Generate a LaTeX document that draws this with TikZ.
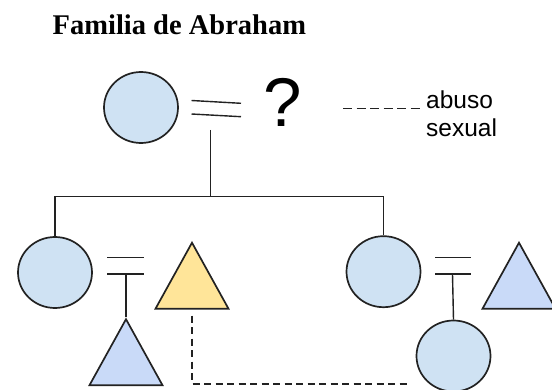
\documentclass[tikz,border=0pt]{standalone}
\usepackage{fontspec}
\setmainfont{Liberation Serif}
\newfontfamily\labelfont{Liberation Sans}
\usetikzlibrary{shapes.geometric}
\definecolor{femfill}{HTML}{CFE2F3}
\definecolor{mascfill}{HTML}{C9DAF8}
\definecolor{mascyellow}{HTML}{FFE599}
\definecolor{edge}{HTML}{222222}
\tikzset{fem/.style={ellipse,draw=edge,line width=1.7pt,fill=femfill,minimum width=74pt,minimum height=71pt,inner sep=0pt}}
\tikzset{masc/.style={isosceles triangle,isosceles triangle stretches,shape border rotate=90,draw=edge,line width=1.7pt,fill=mascfill,minimum width=73pt,minimum height=66pt,inner sep=0pt,anchor=apex}}
\tikzset{link/.style={draw=edge,line width=1.4pt}}
\tikzset{abuse/.style={draw=edge,line width=1.4pt,dash pattern=on 7pt off 4.5pt}}

\begin{document}
\begin{tikzpicture}[x=1pt,y=-1pt]
    \useasboundingbox (0,0) rectangle (552,390);
    \node[anchor=base west,inner sep=0pt,font=\bfseries\fontsize{28.5}{30}\selectfont] (title) at (52.5,35) {Familia de Abraham};
    % first generation
    \node[fem] (abraham) at (141,107.5) {};
    \node[anchor=base,inner sep=0pt,font=\labelfont\fontsize{69}{70}\selectfont] (partner) at (283,127) {?};
    \draw[link] (191.5,100.5) -- (241,103.3);
    \draw[link] (191.5,114) -- (241,116.7);
    \coordinate (m1) at (210.7,130);
    \coordinate (sib) at (210.7,196.7);
    \draw[link] (m1) -- (sib);
    % legend
    \coordinate (legend) at (343,108.5);
    \node[anchor=base west,inner xsep=3pt,inner ysep=0pt,font=\labelfont\fontsize{24.5}{26}\selectfont] (abuso) at (423,108.5) {abuso};
    \node[anchor=base west,inner xsep=3pt,inner ysep=0pt,font=\labelfont\fontsize{24.5}{26}\selectfont] (sexual) at (423,137) {sexual};
    \draw[abuse,dash pattern=on 9pt off 4.5pt] (legend) -- (abuso.base west);
    % second generation
    \node[fem] (hijaL) at (55,272.5) {};
    \node[fem] (hijaR) at (383.5,271.7) {};
    \draw[link] (hijaL.north) -- (hijaL.north |- sib) -- (hijaR.north |- sib) -- (hijaR.north);
    \draw[link] (107.4,257.7) -- (144.4,257.7);
    \draw[link] (107.4,274) -- (144.4,274);
    \draw[link] (435,257.7) -- (471,257.7);
    \draw[link] (435,274) -- (471,274);
    \coordinate (m2) at (126,274);
    \coordinate (m3) at (452.5,274);
    \node[masc,fill=mascyellow] (yernoL) at (192,240.5) {};
    \node[masc] (yernoR) at (519,240.5) {};
    % third generation
    \node[masc] (nieto) at (126,317) {};
    \node[fem] (nieta) at (453.5,356) {};
    \draw[link] (m2) -- (nieto.apex);
    \draw[link] (m3) -- (nieta.north);
    \coordinate (abuseEnd) at (410,384);
    \draw[abuse] ([yshift=-6pt]yernoL.lower side) -- (yernoL.lower side |- abuseEnd) -- (abuseEnd);
\end{tikzpicture}
\end{document}
